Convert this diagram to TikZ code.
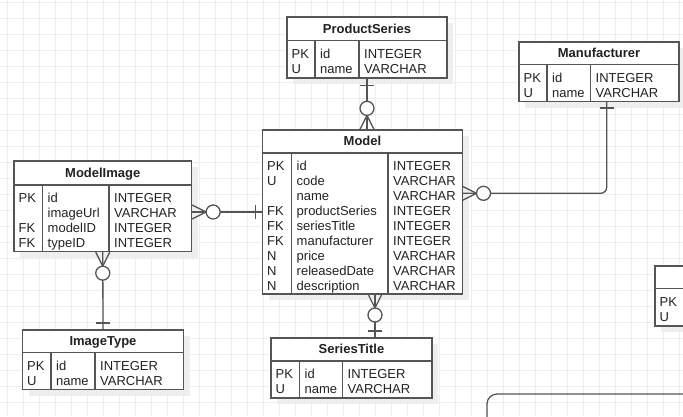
\documentclass[tikz,border=0pt]{standalone}
\usepackage{fontspec}
\setmainfont{Liberation Sans}
\usetikzlibrary{fit}
\definecolor{gridc}{HTML}{EEEEEE}
\definecolor{shadc}{HTML}{EEEEEE}
\definecolor{linec}{HTML}{555555}
\definecolor{txtc}{HTML}{222222}
\tikzset{
  tabbox/.style={draw=linec, line width=1.3pt, fill=white, inner sep=0pt},
  tabline/.style={draw=linec, line width=1.1pt},
  conn/.style={draw=linec, line width=1.3pt},
  titlef/.style={anchor=base, inner sep=0pt, text=txtc, font=\fontsize{13}{15}\selectfont\bfseries},
  cellf/.style={anchor=base west, inner sep=0pt, text=txtc, font=\fontsize{13}{15}\selectfont},
  manyopt/.pic={
    \draw[conn] (0pt,7pt) -- (14pt,0pt) -- (0pt,-7pt);
    \draw[conn] (0pt,0pt) -- (14pt,0pt);
    \draw[conn, fill=white] (21pt,0pt) circle[radius=7pt];
  },
  onebar/.pic={
    \draw[conn] (6.5pt,-7pt) -- (6.5pt,7pt);
  }
}
% #1 name, #2 L, #3 T, #4 R, #5 header bottom, #6 B, #7 d1, #8 d2, #9 title
\newcommand\ertab[9]{%
  \fill[shadc] ({#2+6},{#3+6}) rectangle ({#4+6},{#6+6});
  \path ({#2},{#3}) coordinate (#1nw) ({#4},{#6}) coordinate (#1se);
  \node[tabbox, fit=(#1nw)(#1se)] (#1) {};
  \draw[tabline] ({#2},{#5}) -- ({#4},{#5});
  \draw[tabline] ({#7},{#5}) -- ({#7},{#6});
  \draw[tabline] ({#8},{#5}) -- ({#8},{#6});
  \node[titlef] (#1-title) at ({(#2+#4)/2},{#5-7.5}) {#9};
}
% #1 name, #2 L, #3 d1, #4 d2, #5 header bottom, #6 rows
\newcommand\errows[6]{%
  \foreach \k/\n/\t [count=\i from 0] in {#6} {
    \node[cellf] (#1-k\i) at ({#2+4.5},{#5+17.5+15*\i}) {\k};
    \node[cellf] (#1-n\i) at ({#3+5},{#5+17.5+15*\i}) {\n};
    \node[cellf] (#1-t\i) at ({#4+5},{#5+17.5+15*\i}) {\t};
  }
}
\begin{document}
\begin{tikzpicture}[x=1pt, y=-1pt]
\useasboundingbox (0,0) rectangle (683,416);
\clip (0,0) rectangle (683,416);
\fill[white] (0,0) rectangle (683,416);
% grid
\foreach \gx in {0,...,42} \draw[gridc, line width=0.9pt] ({7.3+16*\gx},0) -- ({7.3+16*\gx},416);
\foreach \gy in {0,...,26} \draw[gridc, line width=0.9pt] (0,{2.3+16*\gy}) -- (683,{2.3+16*\gy});

% tables
\ertab{ps}{287}{17}{447}{40.5}{78}{315}{359}{ProductSeries}
\errows{ps}{287}{315}{359}{40.5}{PK/id/INTEGER, U/name/VARCHAR}

\ertab{man}{519}{42}{679}{64.5}{101.5}{547}{590.5}{Manufacturer}
\errows{man}{519}{547}{590.5}{64.5}{PK/id/INTEGER, U/name/VARCHAR}

\ertab{model}{262.5}{130}{462.5}{153}{294}{291.5}{388}{Model}
\errows{model}{262.5}{291.5}{388}{153}{PK/id/INTEGER, U/code/VARCHAR, {}/name/VARCHAR, FK/productSeries/INTEGER, FK/seriesTitle/INTEGER, FK/manufacturer/INTEGER, N/price/VARCHAR, N/releasedDate/VARCHAR, N/description/VARCHAR}

\ertab{mi}{14}{161}{191.5}{185}{251.5}{42.5}{109}{ModelImage}
\errows{mi}{14}{42.5}{109}{185}{PK/id/INTEGER, {}/imageUrl/VARCHAR, FK/modelID/INTEGER, FK/typeID/INTEGER}

\ertab{it}{22.5}{330}{183.5}{352.5}{389.5}{51}{95}{ImageType}
\errows{it}{22.5}{51}{95}{352.5}{PK/id/INTEGER, U/name/VARCHAR}

\ertab{st}{271}{338}{432}{361}{398}{299.5}{342.5}{SeriesTitle}
\errows{st}{271}{299.5}{342.5}{361}{PK/id/INTEGER, U/name/VARCHAR}

% partial table at right edge
\fill[shadc] (661,272) rectangle (740,332);
\path (655,266) coordinate (pxnw) (734,326) coordinate (pxse);
\node[tabbox, fit=(pxnw)(pxse)] (px) {};
\draw[tabline] (655,288.5) -- (734,288.5);
\node[cellf] (px-k0) at (659.5,306) {PK};
\node[cellf] (px-k1) at (659.5,321) {U};

% partial rounded container at bottom right
\draw[conn, rounded corners=10pt] (487,440) -- (487,394) -- (720,394);

% connectors
\draw[conn] (ps.south) -- (ps.south |- model.north);
\coordinate (manx) at (606.7,101.5);
\coordinate (modr) at (462.5,193.3);
\draw[conn, rounded corners=6pt] (manx) |- (modr);
\draw[conn] (model.west -| mi.east) -- (model.west);
\draw[conn] (mi.south) -- (it.north);
\coordinate (stx) at (375,294);
\draw[conn] (stx) -- (stx |- st.north);

% ends
\pic[rotate=-90] at (ps.south) {onebar};
\pic[rotate=90] at (ps.south |- model.north) {manyopt};
\pic[rotate=-90] at (manx) {onebar};
\pic at (modr) {manyopt};
\pic at (model.west -| mi.east) {manyopt};
\pic[rotate=180] at (model.west) {onebar};
\pic[rotate=-90] at (mi.south) {manyopt};
\pic[rotate=90] at (it.north) {onebar};
\pic[rotate=-90] at (stx) {manyopt};
\pic[rotate=90] at (stx |- st.north) {onebar};
\end{tikzpicture}
\end{document}
